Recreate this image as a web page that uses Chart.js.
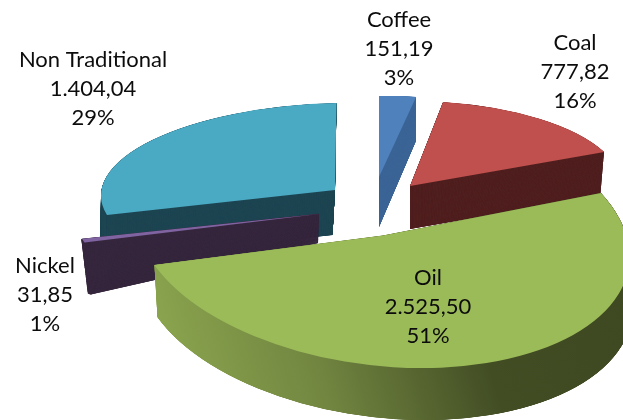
<!DOCTYPE html>
<html>
<head>
<meta charset="utf-8">
<style>
  html, body { margin: 0; padding: 0; background: #fff; }
  canvas { display: block; }
</style>
<script src="https://cdn.jsdelivr.net/npm/chart.js@4/dist/chart.umd.min.js"></script>
</head>
<body>
<canvas id="chart" width="623" height="420"></canvas>
<script>
// Commodity split, in slice order clockwise from twelve o'clock.
const categories = ['Coffee', 'Coal', 'Oil', 'Nickel', 'Non Traditional'];
const values = [151.19, 777.82, 2525.50, 31.85, 1404.04];
const valueLabels = ['151,19', '777,82', '2.525,50', '31,85', '1.404,04'];
const percentLabels = ['3%', '16%', '51%', '1%', '29%'];

const topColors = ['#4f81bd', '#c0504d', '#9bbb59', '#8064a2', '#4aa9c3'];
const wallColors = ['#3c6596', '#512020', null, '#37283f', '#1f4653'];
const oilWallStops = [[150, '#8aa44e'], [300, '#718540'], [470, '#424d24'], [640, '#3e4821']];

// Back-to-front paint order, so nearer slices overlap farther ones.
const paintOrder = [0, 4, 1, 3, 2];

// Tilted-pie projection for each exploded slice: the upper face (pivot and the
// two axes of the unit circle on screen), the drop to the lower face, the axes
// of the lower face, and an optional stroke that thickens a very narrow wall.
const projection = [
  { pivot: [379, 177],   u: [192, -2.7],  v: [0, 81],        drop: [0, 50],    lowU: [192, -2.7],  lowV: [0, 87.5],      wallStroke: 0 },
  { pivot: [410, 186],   u: [212, -2.9],  v: [8, 85],        drop: [0, 43],    lowU: [208, -2.9],  lowV: [8, 83],        wallStroke: 0 },
  { pivot: [383, 235.5], u: [245, 6.7],   v: [26.6, 132.4],  drop: [3, 52],    lowU: [245, 6.7],   lowV: [26.6, 132.4],  wallStroke: 0 },
  { pivot: [318.5, 214], u: [243, -3],    v: [0, 95],        drop: [-0.5, 29], lowU: [236, -40.7], lowV: [0, 45],        wallStroke: 1.5 },
  { pivot: [335, 190],   u: [234, -5],    v: [-1.5, 87],     drop: [-2.5, 45], lowU: [232, -5],    lowV: [-1.5, 86],     wallStroke: 0 }
];

const labelAnchors = [[399, 20], [575, 43], [428, 278], [45, 266], [93, 60]];
const labelLineHeight = 29;

function toMatrix(arc, p, k) {
  const mix = (top, low) => top + (low - top) * k;
  const r = arc.outerRadius;
  const a = mix(p.u[0], p.lowU[0]) / r, b = mix(p.u[1], p.lowU[1]) / r;
  const c = mix(p.v[0], p.lowV[0]) / r, d = mix(p.v[1], p.lowV[1]) / r;
  const px = p.pivot[0] + p.drop[0] * k;
  const py = p.pivot[1] + p.drop[1] * k;
  return new DOMMatrix([a, b, c, d, px - a * arc.x - c * arc.y, py - b * arc.x - d * arc.y]);
}

function drawSlice(ctx, arc, m, fill, stroke) {
  const saved = arc.options;
  arc.options = Object.assign({}, saved, {
    backgroundColor: fill,
    borderColor: fill,
    borderWidth: stroke || 0
  });
  ctx.save();
  ctx.setTransform(m);
  arc.draw(ctx);
  ctx.restore();
  arc.options = saved;
}

function wallFill(ctx, index, m) {
  if (wallColors[index]) return wallColors[index];
  const inv = m.inverse();
  const last = oilWallStops[oilWallStops.length - 1][0];
  const x0 = oilWallStops[0][0];
  const from = inv.transformPoint(new DOMPoint(x0, 300));
  const to = inv.transformPoint(new DOMPoint(last, 300));
  const g = ctx.createLinearGradient(from.x, from.y, to.x, to.y);
  oilWallStops.forEach(s => g.addColorStop((s[0] - x0) / (last - x0), s[1]));
  return g;
}

const tiltedPie = {
  id: 'tiltedPie',
  beforeDatasetDraw() { return false; },
  afterDatasetsDraw(chart) {
    const ctx = chart.ctx;
    const arcs = chart.getDatasetMeta(0).data;
    paintOrder.forEach(i => {
      const arc = arcs[i], p = projection[i];
      // Fine steps keep the wall solid where a narrow slice tapers to its tip.
      const layers = Math.ceil(Math.hypot(p.drop[0], p.drop[1])) * 8;
      for (let n = layers; n >= 1; n--) {
        const m = toMatrix(arc, p, n / layers);
        drawSlice(ctx, arc, m, wallFill(ctx, i, m), p.wallStroke);
      }
      drawSlice(ctx, arc, toMatrix(arc, p, 0), topColors[i], 0);
    });

    ctx.save();
    ctx.setTransform(1, 0, 0, 1, 0, 0);
    ctx.fillStyle = '#0c0c0c';
    ctx.font = '22px Lato';
    ctx.textAlign = 'center';
    ctx.textBaseline = 'middle';
    categories.forEach((name, i) => {
      const [x, y] = labelAnchors[i];
      [name, valueLabels[i], percentLabels[i]].forEach((line, row) => {
        ctx.fillText(line, x, y + row * labelLineHeight);
      });
    });
    ctx.restore();
  }
};

new Chart(document.getElementById('chart'), {
  type: 'pie',
  data: {
    labels: categories,
    datasets: [{ data: values, backgroundColor: topColors, borderWidth: 0 }]
  },
  options: {
    responsive: false,
    animation: false,
    events: [],
    plugins: { legend: { display: false }, tooltip: { enabled: false } }
  },
  plugins: [tiltedPie]
});
</script>
</body>
</html>
